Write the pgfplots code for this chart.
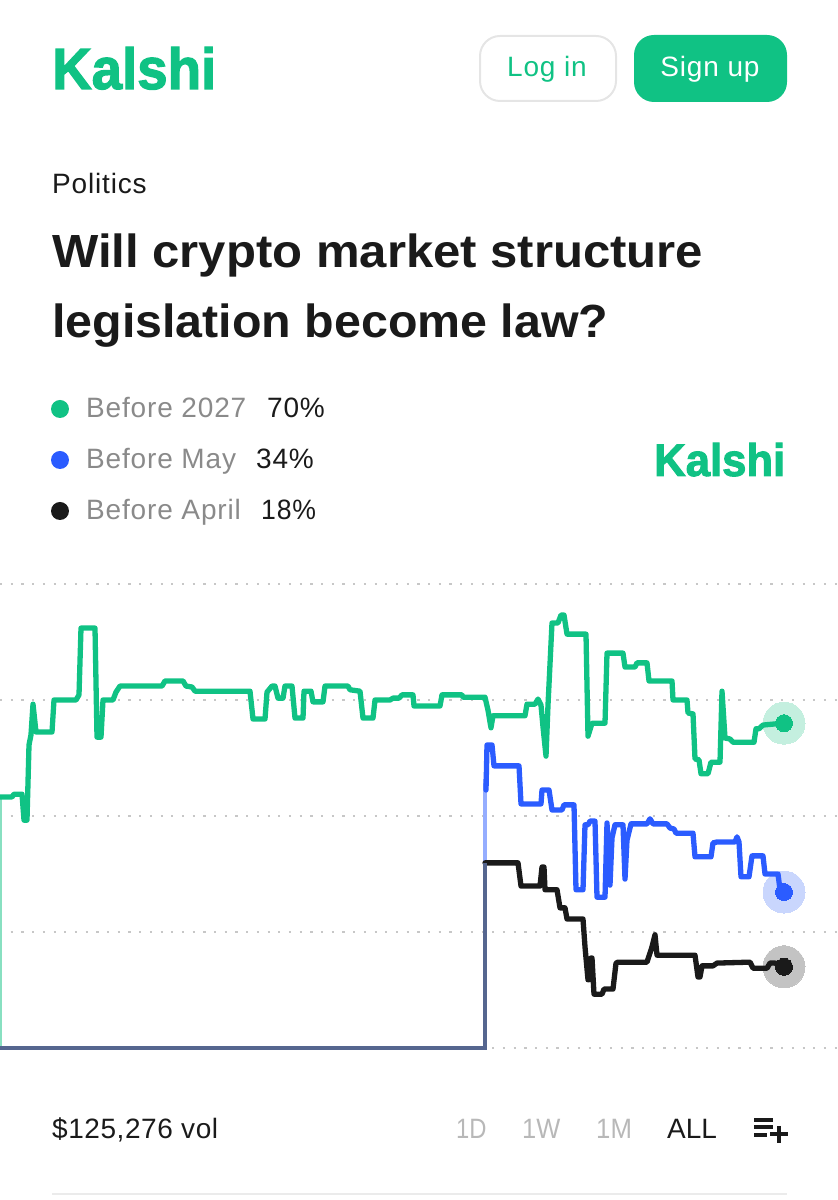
\documentclass[border=0pt]{standalone}
\usepackage{fontspec}
\usepackage{graphicx}
\usepackage{pgfplots}
\pgfplotsset{compat=1.18}
\setmainfont{Liberation Sans}
\newfontfamily\logofont[FakeBold=2.2]{Liberation Sans Bold}
\newfontfamily\spaced[LetterSpace=3]{Liberation Sans}
\newfontfamily\spacedb[LetterSpace=2]{Liberation Sans}
\definecolor{kgreen}{HTML}{10C284}
\definecolor{kblue}{HTML}{2B5CFF}
\definecolor{kblack}{HTML}{1A1A1A}
\definecolor{kgray}{HTML}{8A8A8A}
\definecolor{kfaint}{HTML}{B8B8B8}
\definecolor{khalog}{HTML}{C4EFDF}
\definecolor{khalob}{HTML}{C9D6FD}
\definecolor{khalok}{HTML}{C3C3C3}
\definecolor{kslate}{HTML}{55668F}
\pgfplotstableread{
x y
0 54.1
12 54.1
14 54.7
22 54.7
24 49.1
27 49.1
29 65.3
31 67.5
33 74.1
36 68.1
52 68.1
54 75
76 75
79 76.1
81 90.5
95 90.5
97 67
101 67
103 75
113 75
116 76.7
120 78
162 78
165 79.1
183 79.1
186 78
192 77.8
195 76.9
250 76.9
253 70.9
265 70.9
267 76.7
272 78
275 78
278 75.4
283 75.4
285 78
292 78
295 71.1
303 71.1
304 76.9
311 76.9
313 74.6
323 74.6
325 78
348 78
350 77.2
360 76.9
363 71.1
373 71.1
375 75
390 75
393 75.4
399 75.4
402 76.1
413 76.1
414 73.7
440 73.7
442 76.1
462 76.1
463 75.6
485 75.6
488 72.8
491 69
493 71.6
525 71.6
527 74.1
535 74.1
538 75.2
541 73.9
543 69.2
546 62.9
548 73.9
552 91.6
558 91.6
561 93.3
564 93.3
567 89.2
586 89.2
588 67.2
592 70
605 70
607 85.1
623 85.1
625 82.1
635 82.1
637 83
647 83
649 79.1
672 79.1
673 75
687 75
688 72.2
693 72
695 62.3
699 62.1
701 59.1
708 59.1
711 61.6
720 61.6
722 76.9
725 66.8
730 66.6
733 65.9
754 65.9
756 68.8
759 68.8
763 69.6
783 70
}\greendata
\pgfplotstableread{
x y
486 55.6
487 65.3
492 65.3
494 60.8
519 60.8
521 52.6
541 52.6
542 55.6
549 55.6
552 51.3
562 51.3
564 52.4
574 52.4
576 34.1
583 34.1
585 48.1
588 48.1
590 48.9
595 48.9
597 32.5
605 32.5
607 48.5
610 35.1
612 45.3
615 48.1
623 48.1
625 36.4
627 44.8
631 48.3
647 48.3
650 49.4
653 48.3
667 48.3
670 47.4
674 47.2
676 46.3
693 46.3
695 41.2
711 41.2
713 44.2
717 44.4
735 44.4
737 45.5
739 44.4
741 36.9
749 36.9
752 41.4
763 41.4
765 37.5
778 37.5
780 34.1
783 33.6
}\bluedata
\pgfplotstableread{
x y
485 39.9
518 39.9
521 34.9
540 34.9
542 39
544 39
545 34.1
557 34.1
560 30.2
565 30.2
567 27.8
583 27.8
585 21.8
588 14.7
589 14.7
591 19.4
592 19.4
594 11.6
602 11.6
604 12.7
613 12.7
616 18.3
618 18.5
647 18.5
652 21.8
655 24.4
657 20
695 20
698 15.3
700 15.3
702 17.7
713 17.7
717 18.3
750 18.5
753 17.2
767 17.2
770 18.3
775 18.3
783 17.5
}\blackdata
\pgfplotsset{kbase/.style={
  at={(0pt,152pt)}, anchor=south west,
  scale only axis, width=838pt, height=464pt,
  xmin=0, xmax=838, ymin=0, ymax=100,
  clip=false,
  axis line style={draw=none},
  xtick=\empty, major tick length=0pt,
}}
\begin{document}
\begin{tikzpicture}
\useasboundingbox (0,0) rectangle (838pt,1200pt);
\begin{axis}[kbase,
  ytick={0,25,50,75,100}, yticklabels={},
  ymajorgrids,
  major grid style={draw=black!22, line width=2.2pt, dash pattern=on 2.2pt off 8.5pt},
]
\addplot[only marks, mark=*, mark size=21pt, color=khalog, line width=0pt, mark options={solid, draw=khalog, fill=khalog}] coordinates {(784,70)};
\addplot[only marks, mark=*, mark size=21pt, color=khalob, line width=0pt, mark options={solid, draw=khalob, fill=khalob}] coordinates {(784,33.6)};
\addplot[only marks, mark=*, mark size=21pt, color=khalok, line width=0pt, mark options={solid, draw=khalok, fill=khalok}] coordinates {(784,17.5)};
\end{axis}
\begin{axis}[kbase, ytick=\empty]
\addplot[color=kgreen!50, line width=2.6pt, line cap=butt, mark=none] coordinates {(1,0) (1,54.1)};
\addplot[color=kgreen, line width=5.3pt, line join=round, line cap=round, mark=none] table {\greendata};
\addplot[color=kblue!50, line width=4pt, line cap=butt, mark=none] coordinates {(485,39.9) (485,58)};
\addplot[color=kblue, line width=5.3pt, line join=round, line cap=round, mark=none] table {\bluedata};
\addplot[color=kblack, line width=5.3pt, line join=round, line cap=round, mark=none] table {\blackdata};
\addplot[color=kslate, line width=4pt, line cap=butt, line join=miter, mark=none] coordinates {(0,0) (485,0) (485,39.9)};
\addplot[only marks, mark=*, mark size=8.5pt, color=kgreen, line width=0pt, mark options={solid, draw=kgreen, fill=kgreen}] coordinates {(784,70)};
\addplot[only marks, mark=*, mark size=8.5pt, color=kblue, line width=0pt, mark options={solid, draw=kblue, fill=kblue}] coordinates {(784,33.6)};
\addplot[only marks, mark=*, mark size=8.5pt, color=kblack, line width=0pt, mark options={solid, draw=kblack, fill=kblack}] coordinates {(784,17.5)};
\end{axis}
\begin{scope}[shift={(0pt,1200pt)}, x=1pt, y=-1pt]
  \node[anchor=base west, inner sep=0pt, text=kgreen] at (52,89) {\resizebox{164pt}{42pt}{\logofont Kalshi}};
  \node[anchor=base west, inner sep=0pt, text=kgreen] at (654,476) {\resizebox{131pt}{33pt}{\logofont Kalshi}};
  \draw[draw=black!10, line width=2pt, rounded corners=20pt] (480,36) rectangle (616,101);
  \node[text=kgreen, inner sep=0pt, anchor=base] at (547,77) {\fontsize{28}{28}\selectfont\spaced Log in};
  \fill[kgreen, rounded corners=20pt] (634,35) rectangle (787,102);
  \node[text=white, inner sep=0pt, anchor=base] at (710,77) {\fontsize{28}{28}\selectfont\spaced Sign up};
  \node[anchor=base west, inner sep=0pt, text=kblack] at (52,194) {\fontsize{28}{28}\selectfont\spaced Politics};
  \node[anchor=base west, inner sep=0pt, text=kblack] at (52,268) {\scalebox{1.055}[1]{\fontsize{46.5}{46.5}\selectfont\bfseries Will crypto market structure}};
  \node[anchor=base west, inner sep=0pt, text=kblack] at (52,338) {\scalebox{1.04}[1]{\fontsize{46.5}{46.5}\selectfont\bfseries legislation become law?}};
  \fill[kgreen] (60,409) circle (9);
  \fill[kblue] (60,460) circle (9);
  \fill[kblack] (60,511) circle (9);
  \node[anchor=base west, inner sep=0pt, text=kgray] at (86,418) {\fontsize{28}{28}\selectfont\spaced Before 2027};
  \node[anchor=base west, inner sep=0pt, text=kblack] at (267,418) {\fontsize{28}{28}\selectfont\spaced 70\%};
  \node[anchor=base west, inner sep=0pt, text=kgray] at (86,469) {\fontsize{28}{28}\selectfont\spaced Before May};
  \node[anchor=base west, inner sep=0pt, text=kblack] at (256,469) {\fontsize{28}{28}\selectfont\spaced 34\%};
  \node[anchor=base west, inner sep=0pt, text=kgray] at (86,520) {\fontsize{28}{28}\selectfont\spaced Before April};
  \node[anchor=base west, inner sep=0pt, text=kblack] at (261,520) {\scalebox{.95}[1]{\fontsize{28}{28}\selectfont\spaced 18\%}};
  \node[anchor=base west, inner sep=0pt, text=kblack] at (52,1139) {\fontsize{28}{28}\selectfont\spacedb \$125,276 vol};
  \node[anchor=base west, inner sep=0pt, text=kfaint] at (456,1139) {\scalebox{.85}[1]{\fontsize{28}{28}\selectfont 1D}};
  \node[anchor=base west, inner sep=0pt, text=kfaint] at (522,1139) {\scalebox{.91}[1]{\fontsize{28}{28}\selectfont 1W}};
  \node[anchor=base west, inner sep=0pt, text=kfaint] at (596,1139) {\scalebox{.92}[1]{\fontsize{28}{28}\selectfont 1M}};
  \node[anchor=base west, inner sep=0pt, text=kblack] at (667,1139) {\fontsize{28}{28}\selectfont ALL};
  \draw[kblack, line width=3.2pt] (754,1120) -- (773,1120) (754,1127) -- (773,1127) (754,1135) -- (767,1135) (770,1134) -- (788,1134) (779,1126) -- (779,1143);
  \draw[black!8, line width=2pt] (52,1194) -- (787,1194);
\end{scope}
\end{tikzpicture}
\end{document}
